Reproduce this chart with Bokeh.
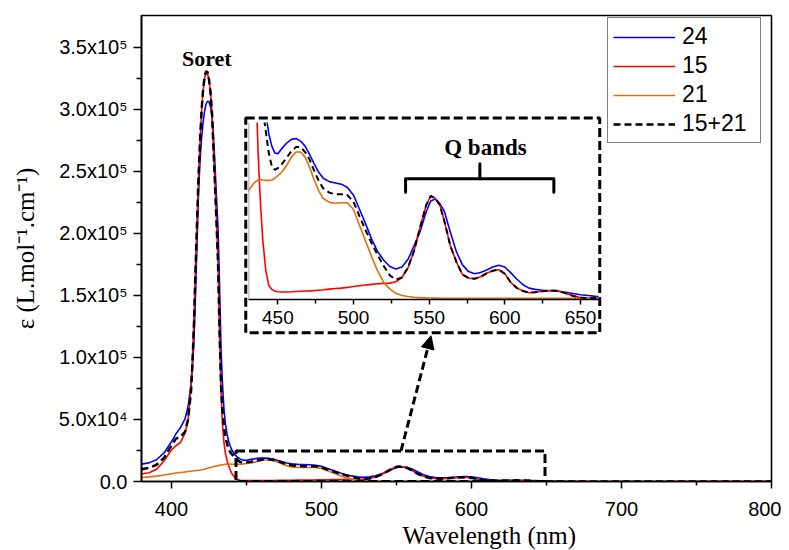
from bokeh.plotting import figure
from bokeh.models import (Range1d, FixedTicker, Legend, LegendItem, Label, Title, Span,
                          BoxAnnotation, Arrow, NormalHead, ColumnDataSource)
from bokeh.layouts import column
from bokeh.embed import file_html
from bokeh.resources import INLINE
from bokeh.core.properties import value

# ---------------- data ----------------
WAVELENGTH = [380, 385, 390, 395, 400, 403, 406, 409, 411, 413,
              414, 415, 416, 417, 418, 419, 420, 421, 422, 423,
              424, 425, 426, 427, 428, 429, 430, 431, 432, 433,
              434, 435, 436, 437, 438, 439, 440,
              442, 444, 446, 448, 450,
              453, 456, 459, 462, 465, 468, 471, 474, 477, 480,
              484, 488, 492, 496, 500, 504, 508, 512, 516, 520,
              524, 528, 532, 536, 540, 544, 548,
              551, 554, 557, 560,
              564, 568, 572, 576, 580, 584, 588, 592, 596, 600,
              604, 608, 612, 616, 620,
              625, 630, 635, 640, 645, 650, 655, 660,
              670, 700, 750, 800]

EPS_24 = [14000, 15000, 17500, 23000, 32000, 38500, 43500, 50500, 60000, 78000,
          93000, 115000, 150000, 193000, 232000, 258000, 276000, 289000, 298000, 304000,
          306500, 306000, 302000, 294000, 277000, 255000, 228000, 205000, 160000, 108000,
          78000, 58000, 46000, 38500, 33000, 29000, 26000,
          21800, 19500, 18000, 17200, 17100,
          17800, 18400, 18800, 18900, 18600, 18000, 17000, 15900, 14900, 14200,
          13800, 13650, 13500, 13100, 12200, 10500, 8800, 7000, 5500, 4500,
          3750, 3450, 3700, 4600, 6200, 7900, 10200,
          11500, 11750, 11200, 10300,
          7800, 5500, 3950, 3150, 2900, 3050, 3350, 3700, 3900, 3700,
          3000, 2250, 1600, 1200, 1050,
          950, 880, 830, 700, 560, 420, 320, 220,
          130, 40, 0, 0]

EPS_15 = [6000, 7000, 9800, 16500, 25500, 28800, 31500, 39000, 49000, 77000,
          100000, 132000, 172000, 208000, 244000, 273000, 297000, 314000, 324500, 329500,
          329000, 323000, 314000, 298000, 266000, 240000, 210000, 178000, 120000, 72000,
          46000, 31000, 22500, 17000, 13000, 9800, 7000,
          3300, 1500, 1050, 850, 760,
          740, 740, 760, 790, 820, 850, 870, 900, 950, 1000,
          1080, 1150, 1200, 1280, 1380, 1470, 1560, 1640, 1720, 1760,
          1790, 1950, 2450, 3600, 5600, 8400, 11000,
          12100, 11850, 11050, 9150,
          6200, 4300, 2800, 2400, 2300, 2550, 2950, 3250, 3380, 2900,
          1850, 1200, 850, 650, 700,
          820, 920, 880, 600, 280, 80, 20, 0,
          0, 0, 0, 0]

EPS_21 = [3200, 3700, 4300, 5200, 6300, 6800, 7250, 7700, 8000, 8300,
          8450, 8600, 8750, 8900, 9050, 9200, 9400, 9650, 9950, 10300,
          10650, 11000, 11350, 11700, 12000, 12300, 12550, 12800, 13100, 13350,
          13550, 13750, 13900, 14000, 14050, 14050, 14000,
          13950, 13950, 14000, 14200, 14500,
          15000, 15800, 16700, 17300, 17300, 16700, 15500, 14000, 12700, 11800,
          11350, 11250, 11300, 11300, 10500, 8600, 6750, 4900, 3200, 1850,
          1100, 580, 330, 200, 120, 70, 40,
          20, 10, 0, 0,
          0, 0, 0, 0, 0, 0, 0, 0, 0, 0,
          0, 0, 0, 0, 0,
          0, 0, 0, 0, 0, 0, 0, 0,
          0, 0, 0, 0]

EPS_15_21 = [9900, 11000, 13500, 19000, 29000, 34500, 36000, 40000, 50000, 72000,
             96000, 128000, 170000, 207000, 245000, 274000, 298000, 315000, 325500, 330500,
             330000, 324000, 313500, 297000, 268000, 239000, 209000, 177000, 123000, 78000,
             57000, 44000, 36000, 30500, 26500, 24000, 22300,
             19800, 17200, 15600, 15200, 15400,
             15950, 16700, 17400, 17900, 17900, 17300, 16400, 15100, 13900, 13000,
             12500, 12300, 12300, 12200, 11400, 9700, 8050, 6500, 5100, 3800,
             2700, 2200, 2450, 3650, 5600, 8400, 11000,
             12100, 11850, 11050, 9150,
             6200, 4300, 2800, 2400, 2300, 2550, 2950, 3250, 3380, 2900,
             1850, 1200, 850, 650, 700,
             820, 920, 880, 600, 280, 80, 20, 0,
             0, 0, 0, 0]

SERIES_NAMES = ["24", "15", "21", "15+21"]
SERIES_COLORS = ["#0000FF", "#FF0000", "#E36C0A", "#000000"]

X_TICKS = [400, 500, 600, 700, 800]
X_MINOR = [450, 550, 650, 750]
Y_TICKS = [0, 50000, 100000, 150000, 200000, 250000, 300000, 350000]
Y_MINOR = [25000, 75000, 125000, 175000, 225000, 275000, 325000]
Y_TICK_LABELS = ["0.0", "5.0x10\u2074", "1.0x10\u2075", "1.5x10\u2075",
                 "2.0x10\u2075", "2.5x10\u2075", "3.0x10\u2075", "3.5x10\u2075"]
INSET_X_TICKS = [450, 500, 550, 600, 650]
INSET_X_MINOR = [475, 525, 575, 625]

# annotation positions
SORET_POS = (423.5, 340600)
ZOOM_BOX = (443, 649, 0, 24500)          # left, right, bottom, top (main data units)
INSET_BOX = (449.5, 685.5, 119800, 293000)
ARROW_POS = (553, 24700, 573, 117400)
QBANDS_POS = (587.2, 17900)
BRACKET_X = [534.4, 534.4, 632.4, 632.4]
BRACKET_Y = [12550, 14136, 14136, 12550]
BRACKET_MID_X = [583.5, 583.5]
BRACKET_MID_Y = [14136, 15912]

SANS = "Liberation Sans"
SERIF = "Liberation Serif"

src = ColumnDataSource(dict(wl=WAVELENGTH, s24=EPS_24, s15=EPS_15, s21=EPS_21, s1521=EPS_15_21))
cols = ["s24", "s15", "s21", "s1521"]

# ---------------- main figure ----------------
p = figure(width=773, height=542, output_backend="svg", toolbar_location=None,
           x_range=Range1d(380, 800), y_range=Range1d(0, 375500),
           min_border_left=133, min_border_right=10, min_border_top=7, min_border_bottom=69,
           background_fill_color="white", border_fill_color="white",
           outline_line_color="black", outline_line_width=1.6)
p.frame_align = False
p.grid.visible = False

def style_axis(ax, major_out, minor_out):
    ax.axis_line_color = "black"
    ax.axis_line_width = 1.6
    ax.major_tick_line_color = "black"
    ax.minor_tick_line_color = "black"
    ax.major_tick_line_width = 1.5
    ax.minor_tick_line_width = 1.5
    ax.major_tick_in = 0
    ax.minor_tick_in = 0
    ax.major_tick_out = major_out
    ax.minor_tick_out = minor_out
    ax.major_label_text_font = SANS
    ax.major_label_text_color = "black"

xa = p.xaxis[0]
xa.ticker = FixedTicker(ticks=X_TICKS, minor_ticks=X_MINOR)
style_axis(xa, 7, 4)
xa.major_label_text_font_size = "20px"
xa.major_label_standoff = 13

ya = p.yaxis[0]
ya.ticker = FixedTicker(ticks=Y_TICKS, minor_ticks=Y_MINOR)
style_axis(ya, 8, 5)
ya.major_label_text_font_size = "20px"
ya.major_label_standoff = 6
ya.major_label_overrides = {t: lab for t, lab in zip(Y_TICKS, Y_TICK_LABELS)}
ya.axis_label = "\u03b5 (L.mol\u207b\u00b9.cm\u207b\u00b9)"
ya.axis_label_text_font = SERIF
ya.axis_label_text_font_style = "normal"
ya.axis_label_text_font_size = "25px"
ya.axis_label_text_color = "black"
ya.axis_label_standoff = 17

p.add_layout(Title(text="Wavelength (nm)", align="left", offset=261, standoff=2,
                   text_font=SERIF, text_font_style="normal", text_font_size="25px",
                   text_color="black"), "below")

renderers = []
for c, color in zip(cols, SERIES_COLORS):
    if c == "s1521":
        r = p.line("wl", c, source=src, line_color=color, line_width=2.5, line_dash="7 4")
    else:
        r = p.line("wl", c, source=src, line_color=color, line_width=1.6)
    renderers.append(r)

legend = Legend(items=[LegendItem(label=value(n), renderers=[r]) for n, r in zip(SERIES_NAMES, renderers)],
                location=(466, 338), orientation="vertical",
                label_text_font=SANS, label_text_font_size="23px", label_text_color="black",
                glyph_width=62, glyph_height=24, label_height=24, label_width=73,
                label_standoff=7, padding=5, spacing=2, margin=0,
                border_line_color="black", border_line_width=1.2,
                background_fill_color="white", background_fill_alpha=1.0)
p.add_layout(legend, "center")

p.add_layout(Label(x=SORET_POS[0], y=SORET_POS[1], text="Soret", text_font=SERIF,
                   text_font_style="bold", text_font_size="22px", text_align="center",
                   text_baseline="alphabetic", text_color="black"))

for (l, r_, b, t) in [ZOOM_BOX, INSET_BOX]:
    p.add_layout(BoxAnnotation(left=l, right=r_, bottom=b, top=t, fill_color=None, fill_alpha=0,
                               line_color="black", line_alpha=1.0, line_width=3, line_dash="9 4"))

p.add_layout(Arrow(x_start=ARROW_POS[0], y_start=ARROW_POS[1], x_end=ARROW_POS[2], y_end=ARROW_POS[3],
                   line_color="black", line_width=3, line_dash="8 4",
                   end=NormalHead(size=13, fill_color="black", line_color="black", line_width=1)))

# ---------------- inset figure ----------------
inset = figure(width=360, height=222, output_backend="svg", toolbar_location=None,
               x_range=Range1d(430.6, 661.9), y_range=Range1d(-150, 20800),
               min_border_left=5, min_border_right=5, min_border_top=5, min_border_bottom=40,
               background_fill_color=None, border_fill_color=None, outline_line_color=None)
inset.frame_align = False
inset.grid.visible = False
inset.yaxis.visible = False
ix = inset.xaxis[0]
ix.ticker = FixedTicker(ticks=INSET_X_TICKS, minor_ticks=INSET_X_MINOR)
style_axis(ix, 5, 4)
ix.major_label_text_font_size = "19px"
ix.major_label_standoff = 6
inset.add_layout(Span(location=430.6, dimension="height", line_color="#888888", line_width=1.5))

for c, color in zip(cols, SERIES_COLORS):
    if c == "s1521":
        inset.line("wl", c, source=src, line_color=color, line_width=2, line_dash="6 4")
    else:
        inset.line("wl", c, source=src, line_color=color, line_width=1.6)

inset.line(BRACKET_X, BRACKET_Y, line_color="black", line_width=3, line_join="round", line_cap="round")
inset.line(BRACKET_MID_X, BRACKET_MID_Y, line_color="black", line_width=3, line_cap="round")
inset.add_layout(Label(x=QBANDS_POS[0], y=QBANDS_POS[1], text="Q bands", text_font=SERIF,
                       text_font_style="bold", text_font_size="23px", text_align="center",
                       text_baseline="alphabetic", text_color="black"))

inset.margin = (117 - 8 - 542, 0, 0, 243 - 8)

layout = column(p, inset)
layout.margin = (8, 0, 0, 8)
open("out.html", "w").write(file_html(layout, INLINE))
